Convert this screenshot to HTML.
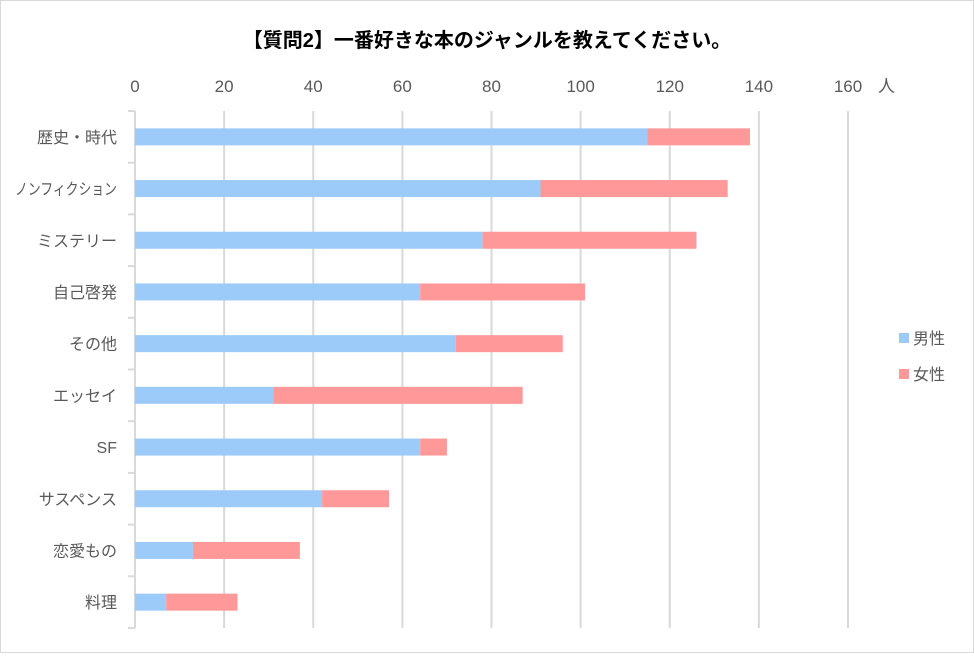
<!DOCTYPE html>
<html><head><meta charset="utf-8"><style>
body{margin:0;background:#fff;}
svg text{font-family:"Liberation Sans","Noto Sans CJK JP",sans-serif;}
</style></head><body>
<svg width="974" height="653" xmlns="http://www.w3.org/2000/svg">
<rect x="0.5" y="0.5" width="973" height="652" fill="#fff" stroke="#d9d9d9"/>
<text x="487" y="47" text-anchor="middle" font-size="20" font-weight="bold" fill="#000">【質問2】一番好きな本のジャンルを教えてください。</text>
<g id="plot"></g>
<g>
<rect x="899" y="333" width="10" height="10" fill="#9dcbf9"/>
<text x="913" y="344" font-size="16" fill="#595959">男性</text>
<rect x="899" y="369" width="10" height="10" fill="#ff9999"/>
<text x="913" y="380" font-size="16" fill="#595959">女性</text>
</g>
</svg>
<script>
const categories=["歴史・時代","ノンフィクション","ミステリー","自己啓発","その他","エッセイ","SF","サスペンス","恋愛もの","料理"];
const male=[115,91,78,64,72,31,64,42,13,7];
const female=[23,42,48,37,24,56,6,15,24,16];
const ticks=[0,20,40,60,80,100,120,140,160];
const NS="http://www.w3.org/2000/svg";
const plotG=document.getElementById('plot');
const x0=135,xs=(848-135)/160,plotTop=111,plotBottom=628,band=(plotBottom-plotTop)/categories.length,bh=17;
const X=v=>x0+v*xs;
function mk(t,a){const e=document.createElementNS(NS,t);for(const k in a)e.setAttribute(k,a[k]);plotG.appendChild(e);return e;}
ticks.forEach(t=>{
 if(t>0){const l=mk('line',{x1:X(t),x2:X(t),y1:plotTop,y2:plotBottom,stroke:'#d9d9d9','stroke-width':2});
 
 }
 const tx=mk('text',{x:X(t),y:92,'text-anchor':'middle','font-size':17,fill:'#595959'});tx.textContent=t;
 
 
});
const u=mk('text',{x:878,y:92,'font-size':17,fill:'#595959'});u.textContent='人';


const ax=mk('line',{x1:x0,x2:x0,y1:plotTop,y2:plotBottom,stroke:'#d9d9d9','stroke-width':2});


for(let i=0;i<=categories.length;i++){const tk=mk('line',{x1:128,x2:x0,y1:plotTop+i*band,y2:plotTop+i*band,stroke:'#d9d9d9','stroke-width':2});
 
 }
categories.forEach((c,i)=>{
 const cy=plotTop+(i+0.5)*band;
 const t=mk('text',{x:117,y:cy+6,'text-anchor':'end','font-size':16,fill:'#595959'});t.textContent=c;
 
 
 if(t.getComputedTextLength()>102){t.setAttribute('textLength',102);t.setAttribute('lengthAdjust','spacingAndGlyphs');}
 const b1=mk('rect',{x:X(0),y:cy-bh/2,width:X(male[i])-X(0),height:bh,fill:'#9dcbf9'});
 
 
 const b2=mk('rect',{x:X(male[i]),y:cy-bh/2,width:X(male[i]+female[i])-X(male[i]),height:bh,fill:'#ff9999'});
 
 
});
</script>
</body></html>
